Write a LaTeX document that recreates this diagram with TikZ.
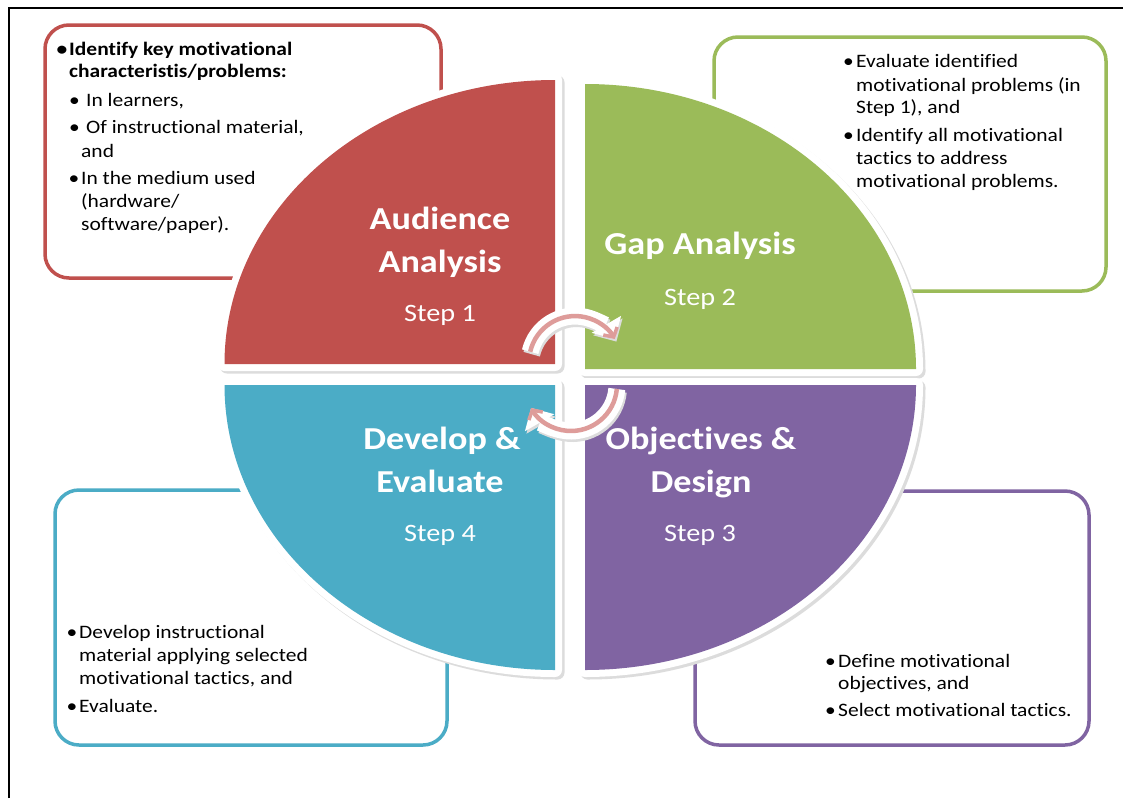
\documentclass[tikz,border=0pt]{standalone}
\usepackage{fontspec}
\setmainfont[FakeStretch=1.13, Ligatures=NoCommon]{Carlito}
\usetikzlibrary{arrows.meta}
\definecolor{cred}{HTML}{C0504D}
\definecolor{cgreen}{HTML}{9BBB59}
\definecolor{cteal}{HTML}{4BACC6}
\definecolor{cpurple}{HTML}{8064A2}
\definecolor{cpink}{HTML}{DE9C9A}
\definecolor{cshad}{HTML}{DCDCDC}
\newcommand\qpathA{(555,364) -- (224.5,364) arc[start angle=180, end angle=270, x radius=330.5, y radius=284] -- cycle}
\newcommand\qpathB{(585,369) -- (585,84) arc[start angle=270, end angle=360, x radius=331, y radius=285] -- cycle}
\newcommand\qpathC{(585,385) -- (916,385) arc[start angle=0, end angle=90, x radius=331, y radius=285] -- cycle}
\newcommand\qpathD{(555,385) -- (555,670) arc[start angle=90, end angle=180, x radius=330.5, y radius=285] -- cycle}
\newcommand\arcTop{(530.2,351.7) arc[start angle=193, end angle=330, radius=46]}
\newcommand\arcBot{(616.8,389) arc[start angle=5, end angle=150, radius=46]}
\begin{document}
\begin{tikzpicture}[x=1pt,y=-1pt,
  box/.style={draw, rounded corners=24pt, line width=3.5pt, rectangle, inner sep=0pt},
  tx/.style={anchor=base west, inner sep=0pt, font=\fontsize{19}{23}\selectfont},
  txb/.style={tx, font=\bfseries\fontsize{19}{23}\selectfont},
  bul/.style={anchor=base, inner sep=0pt, font=\fontsize{19}{23}\selectfont},
  ttl/.style={anchor=base, inner sep=0pt, text=white, font=\bfseries\fontsize{32}{40}\selectfont},
  stp/.style={anchor=base, inner sep=0pt, text=white, font=\fontsize{25}{30}\selectfont},
  qshadow/.style={fill=cshad, draw=cshad, line width=14pt, line join=round},
  qwhite/.style={draw=white, line width=14pt, line join=round},
  arrsh/.style={draw=cshad, line width=17pt, -{Triangle[length=17pt, width=34pt, line width=0pt]}},
  arrwh/.style={draw=white, line width=17pt, -{Triangle[length=17pt, width=34pt, line width=0pt]}},
  arrpk/.style={draw=cpink, line width=4.5pt, -{Straight Barb[length=7pt, width=16pt, line width=3.5pt]}}
]
\fill[white] (0,0) rectangle (1123,798);
\useasboundingbox (0,0) rectangle (1123,798);
% frame
\draw[line width=2pt] (9,798) -- (9,8) -- (1123,8);

% text boxes
\node[box, draw=cred, minimum width=396pt, minimum height=253pt] (b1) at (243,151.5) {};
\node[box, draw=cgreen, minimum width=392pt, minimum height=254pt] (b2) at (910,164) {};
\node[box, draw=cteal, minimum width=392pt, minimum height=255pt] (b4) at (251,617.5) {};
\node[box, draw=cpurple, minimum width=394pt, minimum height=254pt] (b3) at (892,618) {};

% quadrants: shadows, white rims, fills
\begin{scope}[shift={(2.5,2.5)}]
\path[qshadow] \qpathA;
\path[qshadow] \qpathB;
\path[qshadow] \qpathC;
\path[qshadow] \qpathD;
\end{scope}
\path[qwhite] \qpathA;
\path[qwhite] \qpathB;
\path[qwhite] \qpathC;
\path[qwhite] \qpathD;
\fill[cred] \qpathA;
\fill[cgreen] \qpathB;
\fill[cpurple] \qpathC;
\fill[cteal] \qpathD;

% titles
\node[ttl] (t1a) at (440,229) {Audience};
\node[ttl] (t1b) at (440,272) {Analysis};
\node[stp] (s1) at (440,321) {Step 1};
\node[ttl] (t2a) at (700,254) {Gap Analysis};
\node[stp] (s2) at (700,305) {Step 2};
\node[ttl] (t3a) at (701,449) {Objectives \&};
\node[ttl] (t3b) at (701,492) {Design};
\node[stp] (s3) at (700,541) {Step 3};
\node[ttl] (t4a) at (442,449) {Develop \&};
\node[ttl] (t4b) at (440,492) {Evaluate};
\node[stp] (s4) at (440,541) {Step 4};

% cycle arrows
\begin{scope}[shift={(1.5,2.5)}]
\draw[arrsh] \arcTop;
\draw[arrsh] \arcBot;
\end{scope}
\draw[arrwh] \arcTop;
\draw[arrwh] \arcBot;
\draw[arrpk] \arcTop;
\draw[arrpk] \arcBot;

% box 1 text
\node[bul, font=\bfseries\fontsize{19}{23}\selectfont] (r0) at (62,55) {•};
\node[txb] (r1) at (69,55) {Identify key motivational};
\node[txb] (r2) at (69,77) {characteristis/problems:};
\node[bul] (r3b) at (74.5,106) {•};
\node[tx] (r3) at (86,106) {In learners,};
\node[bul] (r4b) at (74.5,133) {•};
\node[tx] (r4) at (86,133) {Of instructional material,};
\node[tx] (r5) at (81,157) {and};
\node[bul] (r6b) at (74,184) {•};
\node[tx] (r6) at (81,184) {In the medium used};
\node[tx] (r7) at (81,207) {(hardware/};
\node[tx] (r8) at (81,230) {software/paper).};

% box 2 text
\node[bul] (g1b) at (848.5,67) {•};
\node[tx] (g1) at (856,67) {Evaluate identified};
\node[tx] (g2) at (856,91) {motivational problems (in};
\node[tx] (g3) at (856,113) {Step 1), and};
\node[bul] (g4b) at (848.5,141) {•};
\node[tx] (g4) at (856,141) {Identify all motivational};
\node[tx] (g5) at (856,164) {tactics to address};
\node[tx] (g6) at (856,187) {motivational problems.};

% box 4 text
\node[bul] (d1b) at (72,638) {•};
\node[tx] (d1) at (79,638) {Develop instructional};
\node[tx] (d2) at (79,661) {material applying selected};
\node[tx] (d3) at (79,684) {motivational tactics, and};
\node[bul] (d4b) at (72,712) {•};
\node[tx] (d4) at (79,712) {Evaluate.};

% box 3 text
\node[bul] (p1b) at (830.5,667) {•};
\node[tx] (p1) at (838,667) {Define motivational};
\node[tx] (p2) at (838,689) {objectives, and};
\node[bul] (p3b) at (830.5,716) {•};
\node[tx] (p3) at (838,716) {Select motivational tactics.};
\end{tikzpicture}
\end{document}
